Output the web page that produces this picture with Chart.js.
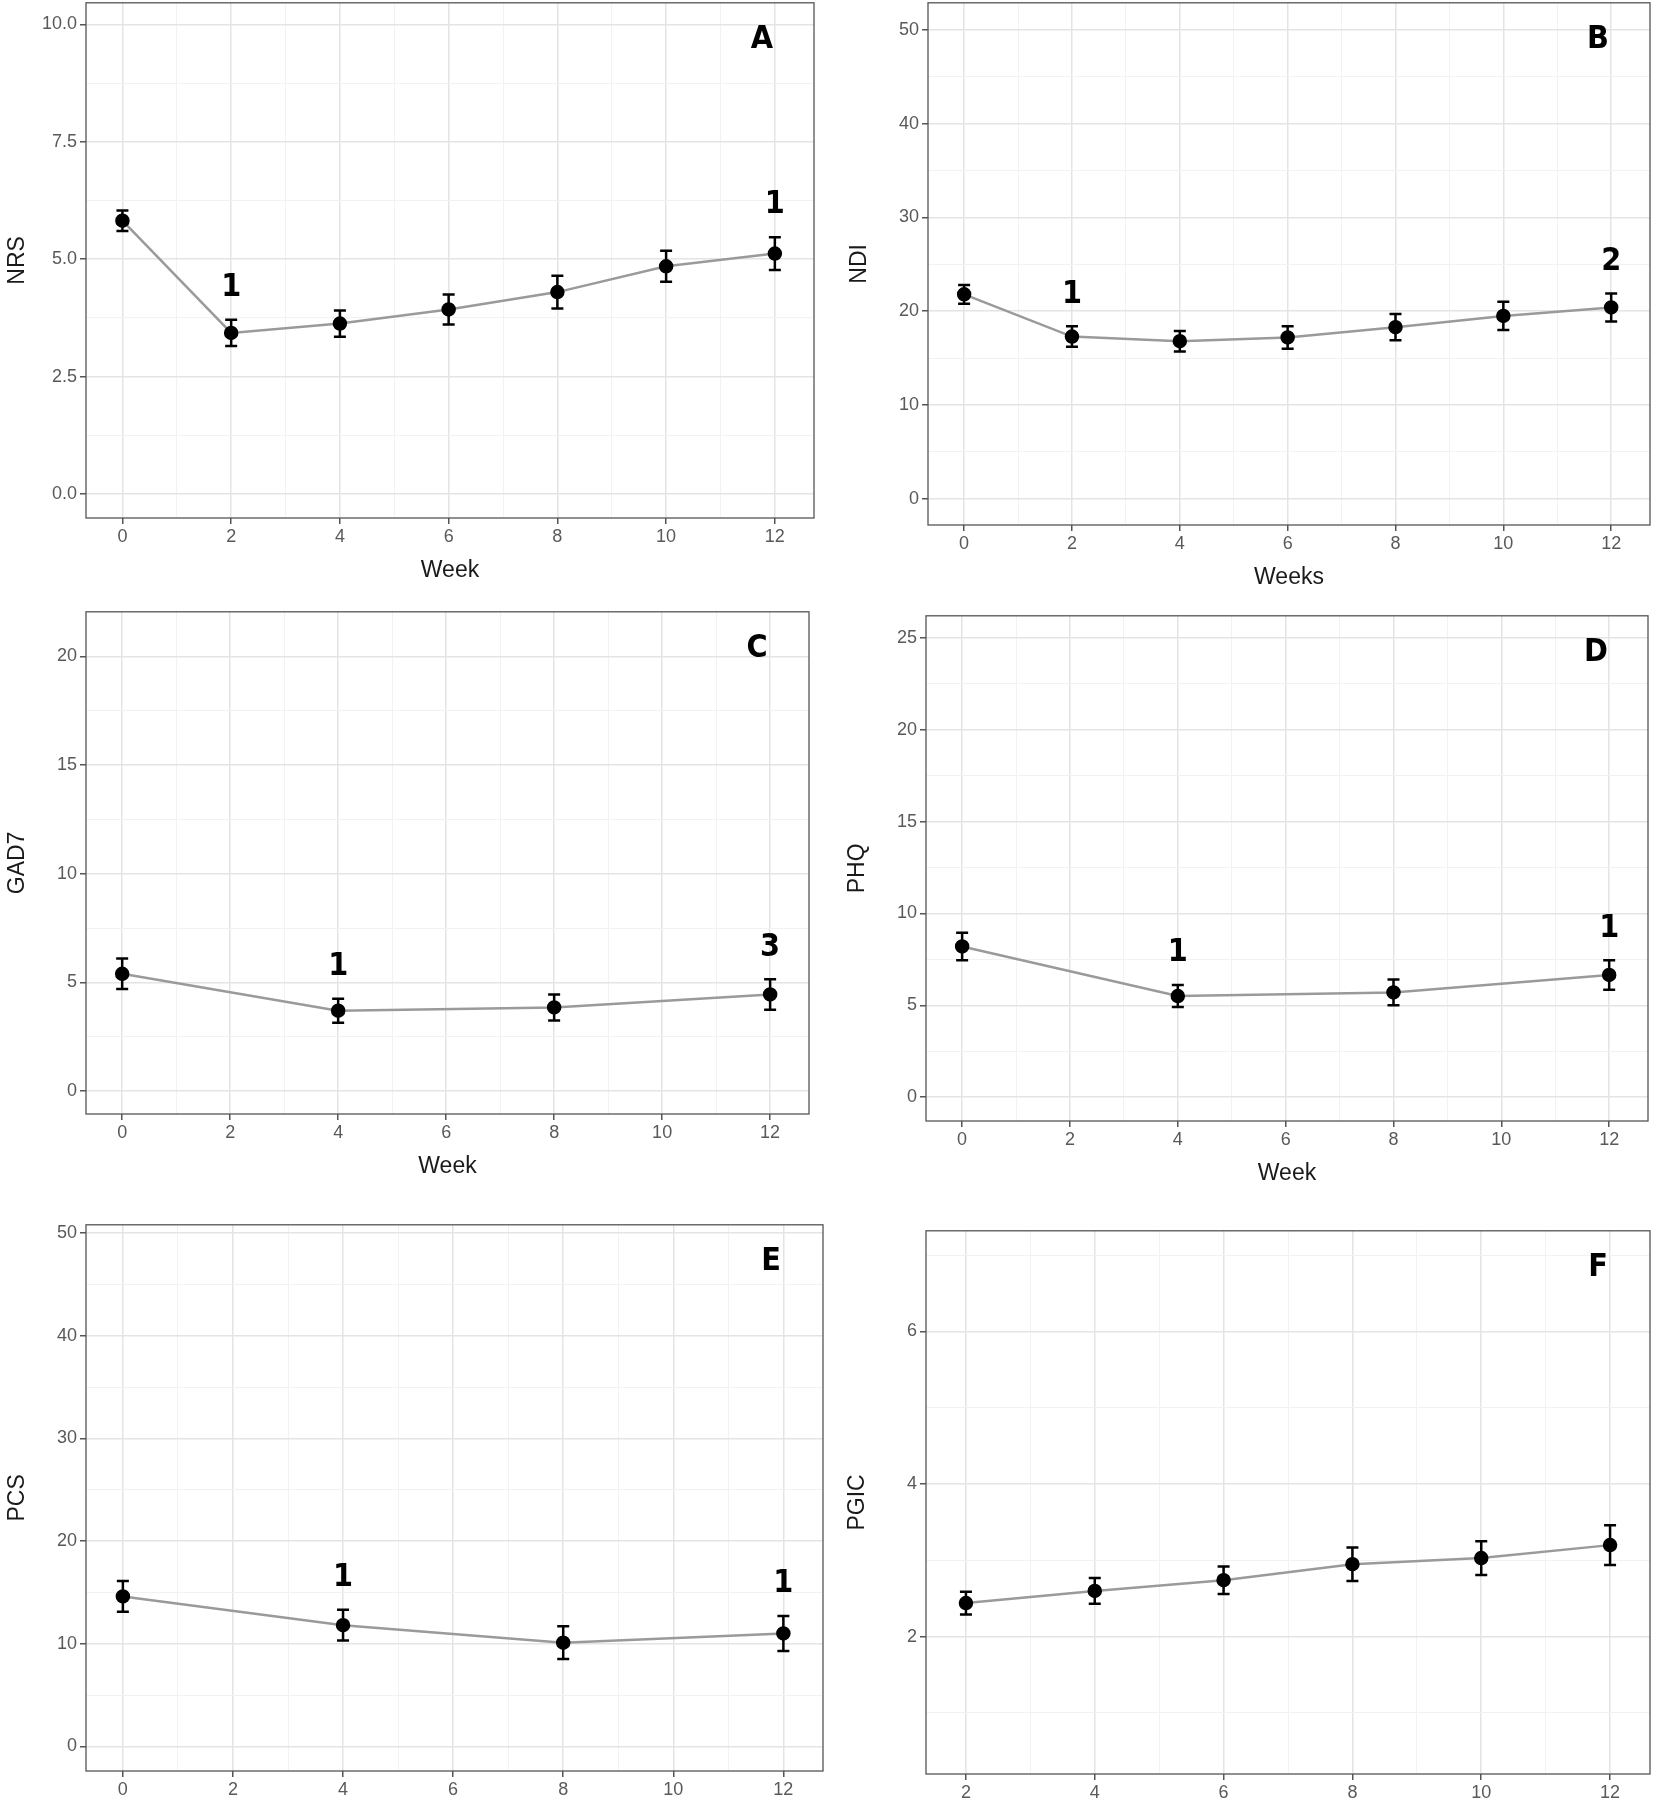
<!DOCTYPE html>
<html>
<head>
<meta charset="utf-8">
<script src="https://cdn.jsdelivr.net/npm/chart.js@4.4.1/dist/chart.umd.min.js"></script>
<style>
  body { margin:0; background:#fff; width:1659px; height:1800px; position:relative; overflow:hidden; }
  canvas { position:absolute; }
</style>
</head>
<body>
<script>
// ── Data ────────────────────────────────────────────────
const weeksAll  = [0, 2, 4, 6, 8, 10, 12];
const weeksQ    = [0, 4, 8, 12];
const weeksPGIC = [2, 4, 6, 8, 10, 12];

const nrsMean  = [5.82, 3.43, 3.63, 3.93, 4.30, 4.85, 5.12];
const nrsErr   = [0.22, 0.28, 0.28, 0.32, 0.35, 0.33, 0.35];
const ndiMean  = [21.8, 17.3, 16.8, 17.2, 18.3, 19.5, 20.4];
const ndiErr   = [1.0, 1.1, 1.1, 1.2, 1.4, 1.5, 1.5];
const gadMean  = [5.4, 3.7, 3.85, 4.45];
const gadErr   = [0.7, 0.55, 0.6, 0.7];
const phqMean  = [8.2, 5.5, 5.7, 6.65];
const phqErr   = [0.75, 0.6, 0.7, 0.8];
const pcsMean  = [14.6, 11.8, 10.1, 11.0];
const pcsErr   = [1.5, 1.5, 1.6, 1.7];
const pgicMean = [2.44, 2.60, 2.74, 2.95, 3.03, 3.20];
const pgicErr  = [0.15, 0.17, 0.18, 0.22, 0.22, 0.26];

// missing-data counts shown above points
const nrsNotes  = [[2, '1'], [12, '1']];
const ndiNotes  = [[2, '1'], [12, '2']];
const gadNotes  = [[4, '1'], [12, '3']];
const phqNotes  = [[4, '1'], [12, '1']];
const pcsNotes  = [[4, '1'], [12, '1']];
const pgicNotes = [];

// ── Panel layout (frame in page px) ─────────────────────
const panels = [
  { id:'A', x:weeksAll,  y:nrsMean,  e:nrsErr,  notes:nrsNotes,  yTitle:'NRS',  xTitle:'Week',
    frame:[86, 2, 814, 518],    yMin:-0.51, yMax:10.46, yMajor:[0,2.5,5,7.5,10], dec:1, xMin:-0.67, xMax:12.72, xMajor:[0,2,4,6,8,10,12] },
  { id:'B', x:weeksAll,  y:ndiMean,  e:ndiErr,  notes:ndiNotes,  yTitle:'NDI',  xTitle:'Weeks',
    frame:[928, 2, 1650, 525],  yMin:-2.8, yMax:52.9, yMajor:[0,10,20,30,40,50], dec:0, xMin:-0.67, xMax:12.72, xMajor:[0,2,4,6,8,10,12] },
  { id:'C', x:weeksQ,    y:gadMean,  e:gadErr,  notes:gadNotes,  yTitle:'GAD7', xTitle:'Week',
    frame:[86, 611, 809, 1114], yMin:-1.05, yMax:22.05, yMajor:[0,5,10,15,20], dec:0, xMin:-0.67, xMax:12.72, xMajor:[0,2,4,6,8,10,12] },
  { id:'D', x:weeksQ,    y:phqMean,  e:phqErr,  notes:phqNotes,  yTitle:'PHQ',  xTitle:'Week',
    frame:[926, 615, 1648, 1121], yMin:-1.3, yMax:26.2, yMajor:[0,5,10,15,20,25], dec:0, xMin:-0.67, xMax:12.72, xMajor:[0,2,4,6,8,10,12] },
  { id:'E', x:weeksQ,    y:pcsMean,  e:pcsErr,  notes:pcsNotes,  yTitle:'PCS',  xTitle:'Week',
    frame:[86, 1224, 823, 1771], yMin:-2.4, yMax:50.8, yMajor:[0,10,20,30,40,50], dec:0, xMin:-0.67, xMax:12.72, xMajor:[0,2,4,6,8,10,12] },
  { id:'F', x:weeksPGIC, y:pgicMean, e:pgicErr, notes:pgicNotes, yTitle:'PGIC', xTitle:'Week',
    frame:[926, 1230, 1650, 1774], yMin:0.2, yMax:7.32, yMajor:[2,4,6], dec:0, xMin:1.38, xMax:12.62, xMajor:[2,4,6,8,10,12] }
];

const Y_W = 86, X_H = 66, PAD_T = 2, PAD_R = 12, TOP_SHIFT = 13;

// major + minor (midpoint) breaks inside the range
function withMinor(major, lo, hi) {
  const step = major[1] - major[0];
  const out = [];
  for (let v = major[0] - step / 2; v <= major[major.length - 1] + step / 2 + 1e-9; v += step / 2) {
    if (v >= lo && v <= hi) out.push(+v.toFixed(4));
  }
  return out;
}
const isMajor = (list, v) => list.some(m => Math.abs(m - v) < 1e-6);

// ── Error bars, frame, annotations ──────────────────────
const extras = {
  id: 'extras',
  afterDatasetsDraw(chart) {
    const p = chart.options.plugins.extras;
    const { ctx, chartArea: a, scales: { x, y } } = chart;
    ctx.save();
    ctx.strokeStyle = '#000'; ctx.lineWidth = 2.5;
    p.xs.forEach((w, i) => {
      const px = x.getPixelForValue(w);
      const t = y.getPixelForValue(p.ys[i] + p.es[i]);
      const b = y.getPixelForValue(p.ys[i] - p.es[i]);
      ctx.beginPath();
      ctx.moveTo(px, t); ctx.lineTo(px, b);
      ctx.moveTo(px - 6, t); ctx.lineTo(px + 6, t);
      ctx.moveTo(px - 6, b); ctx.lineTo(px + 6, b);
      ctx.stroke();
    });
    ctx.fillStyle = '#000';
    ctx.font = 'bold 32px "DejaVu Sans Condensed", "DejaVu Sans"';
    ctx.textAlign = 'center'; ctx.textBaseline = 'middle';
    p.notes.forEach(([w, txt]) => {
      const i = p.xs.indexOf(w);
      ctx.fillText(txt, x.getPixelForValue(w), y.getPixelForValue(p.ys[i] + p.es[i]) - 32);
    });
    ctx.fillText(p.letter, a.right - 52, a.top + 37);
    ctx.strokeStyle = '#555'; ctx.lineWidth = 1.3;
    ctx.strokeRect(a.left, a.top, a.right - a.left, a.bottom - a.top);
    ctx.restore();
  }
};

panels.forEach(p => {
  const [l, t, r, b] = p.frame;
  const cv = document.createElement('canvas');
  const w = r - l + Y_W + PAD_R, h = b - t + TOP_SHIFT + X_H;
  cv.width = w; cv.height = h;
  cv.style.left = (l - Y_W) + 'px'; cv.style.top = (t - TOP_SHIFT) + 'px';
  document.body.appendChild(cv);

  const yTicks = withMinor(p.yMajor, p.yMin, p.yMax);
  const xTicks = withMinor(p.xMajor, p.xMin, p.xMax);
  const tickFont = { family: 'Liberation Sans', size: 18 };

  new Chart(cv.getContext('2d'), {
    type: 'line',
    data: {
      datasets: [{
        data: p.x.map((w, i) => ({ x: w, y: p.y[i] })),
        borderColor: '#9a9a9a', borderWidth: 2.5,
        pointBackgroundColor: '#000', pointBorderColor: '#000', pointRadius: 6,
        tension: 0
      }]
    },
    options: {
      responsive: false, devicePixelRatio: 1, animation: false,
      layout: { padding: { top: PAD_T, right: PAD_R, left: 0, bottom: 0 } },
      plugins: {
        legend: { display: false }, tooltip: { enabled: false },
        extras: { xs: p.x, ys: p.y, es: p.e, notes: p.notes, letter: p.id }
      },
      scales: {
        x: {
          type: 'linear', min: p.xMin, max: p.xMax,
          afterBuildTicks: s => { s.ticks = xTicks.map(v => ({ value: v })); },
          afterFit: s => { s.height = X_H; },
          border: { display: false },
          grid: {
            color: c => isMajor(p.xMajor, c.tick.value) ? '#e4e4e4' : '#f2f2f2',
            lineWidth: c => isMajor(p.xMajor, c.tick.value) ? 1.5 : 1,
            tickColor: c => isMajor(p.xMajor, c.tick.value) ? '#555' : 'rgba(0,0,0,0)',
            tickLength: 6
          },
          ticks: {
            autoSkip: false, maxRotation: 0, color: '#595959', font: tickFont, padding: 2,
            callback: v => isMajor(p.xMajor, v) ? String(v) : ''
          },
          title: { display: true, text: p.xTitle, color: '#1a1a1a', font: { family: 'Liberation Sans', size: 23 }, padding: { top: 0, bottom: 0 } }
        },
        y: {
          type: 'linear', min: p.yMin, max: p.yMax,
          afterBuildTicks: s => { s.ticks = yTicks.map(v => ({ value: v })); },
          afterFit: s => { s.width = Y_W; },
          border: { display: false },
          grid: {
            color: c => isMajor(p.yMajor, c.tick.value) ? '#e4e4e4' : '#f2f2f2',
            lineWidth: c => isMajor(p.yMajor, c.tick.value) ? 1.5 : 1,
            tickColor: c => isMajor(p.yMajor, c.tick.value) ? '#555' : 'rgba(0,0,0,0)',
            tickLength: 6
          },
          ticks: {
            autoSkip: false, color: '#595959', font: tickFont, padding: 3,
            callback: v => isMajor(p.yMajor, v) ? v.toFixed(p.dec) : ''
          },
          title: { display: true, text: p.yTitle, color: '#1a1a1a', font: { family: 'Liberation Sans', size: 23 } }
        }
      }
    },
    plugins: [extras]
  });
});
</script>
</body>
</html>
